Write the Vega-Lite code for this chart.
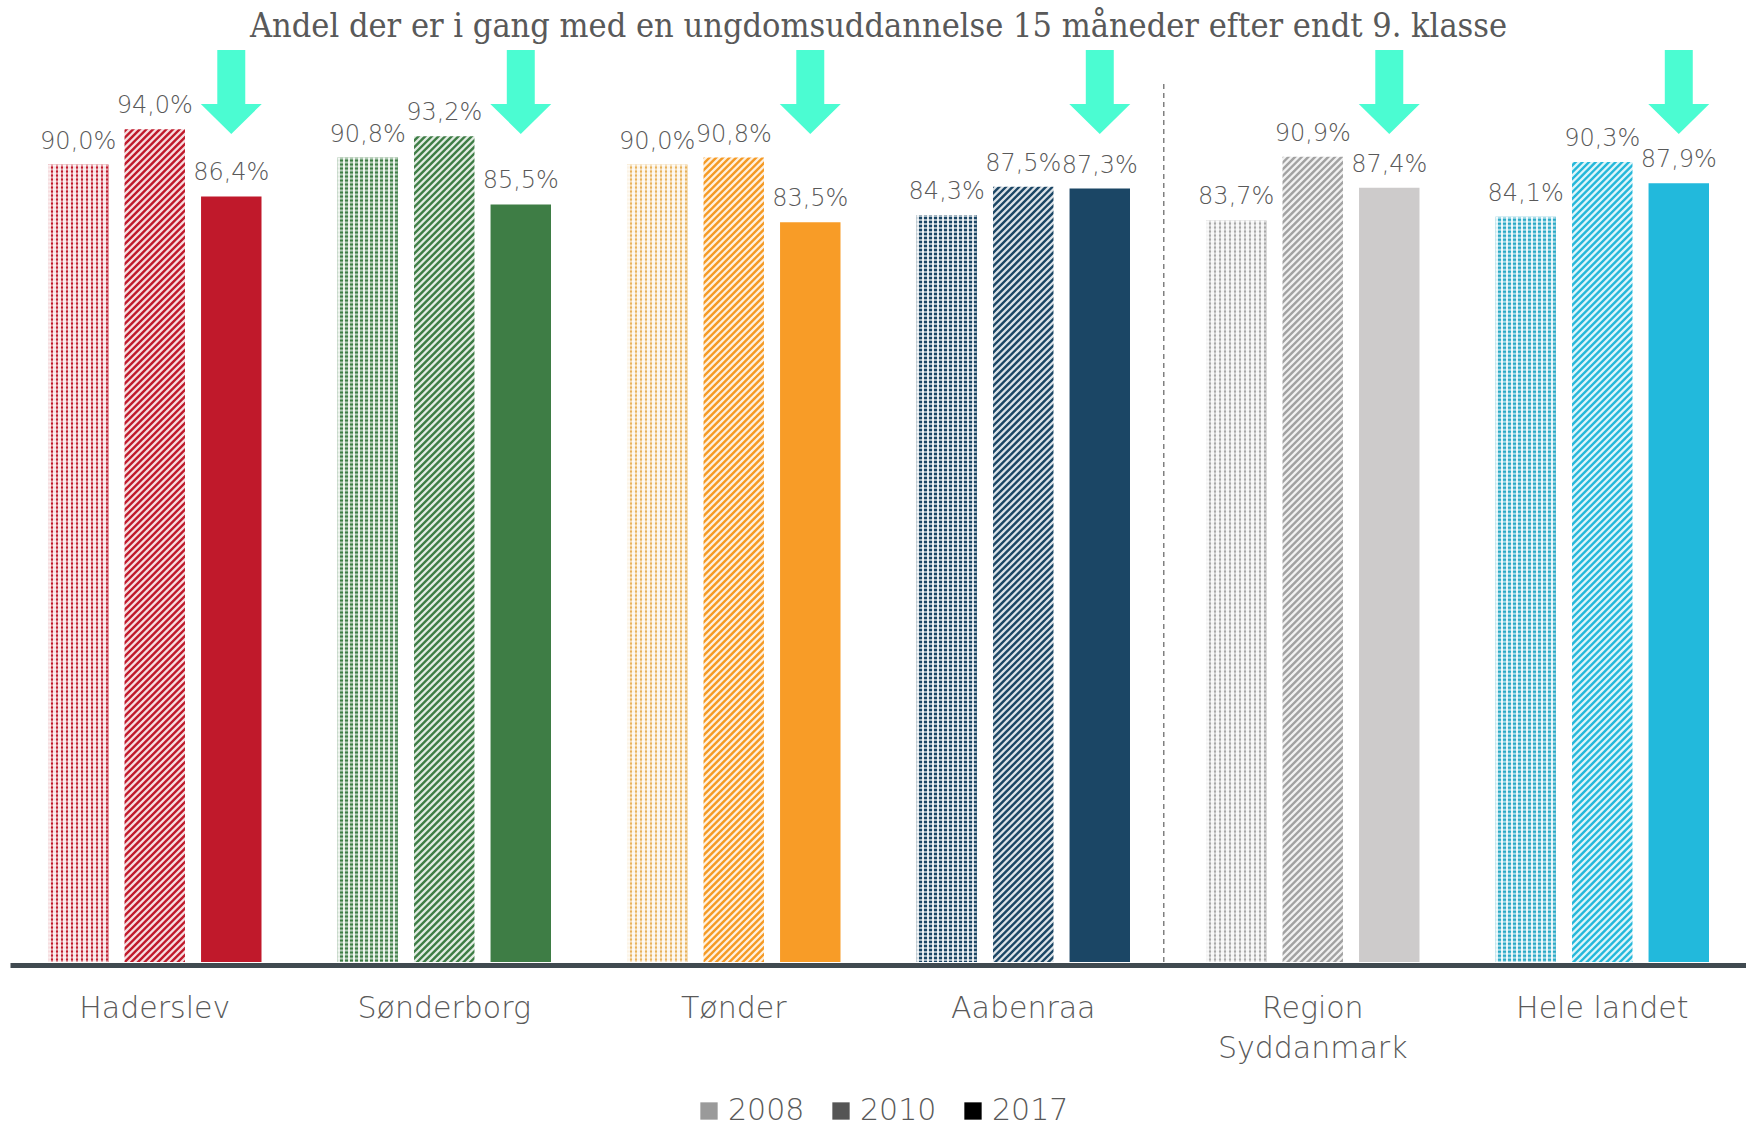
{
  "$schema": "https://vega.github.io/schema/vega-lite/v6.json",
  "autosize": {"type": "none"},
  "width": 1737,
  "height": 886,
  "padding": {"left": 10, "top": 76, "right": 0, "bottom": 164},
  "background": "white",
  "data": {"values": [
    {"kommune": "Haderslev", "year": "2008", "value": 0.900},
    {"kommune": "Haderslev", "year": "2010", "value": 0.940},
    {"kommune": "Haderslev", "year": "2017", "value": 0.864},
    {"kommune": "Sønderborg", "year": "2008", "value": 0.908},
    {"kommune": "Sønderborg", "year": "2010", "value": 0.932},
    {"kommune": "Sønderborg", "year": "2017", "value": 0.855},
    {"kommune": "Tønder", "year": "2008", "value": 0.900},
    {"kommune": "Tønder", "year": "2010", "value": 0.908},
    {"kommune": "Tønder", "year": "2017", "value": 0.835},
    {"kommune": "Aabenraa", "year": "2008", "value": 0.843},
    {"kommune": "Aabenraa", "year": "2010", "value": 0.875},
    {"kommune": "Aabenraa", "year": "2017", "value": 0.873},
    {"kommune": "Region Syddanmark", "year": "2008", "value": 0.837},
    {"kommune": "Region Syddanmark", "year": "2010", "value": 0.909},
    {"kommune": "Region Syddanmark", "year": "2017", "value": 0.874},
    {"kommune": "Hele landet", "year": "2008", "value": 0.841},
    {"kommune": "Hele landet", "year": "2010", "value": 0.903},
    {"kommune": "Hele landet", "year": "2017", "value": 0.879}
  ]},
  "resolve": {"scale": {"fill": "independent"}},
  "layer": [
    {
      "transform": [{"filter": "datum.year == '2010'"}],
      "mark": {"type": "bar"},
      "encoding": {
        "x": {"field": "kommune", "type": "nominal", "sort": null, "title": null,
          "scale": {"domain": ["Haderslev", "Sønderborg", "Tønder", "Aabenraa", "Region Syddanmark", "Hele landet"], "paddingInner": 0.2625, "paddingOuter": 0.13125},
          "axis": {"labelAngle": 0, "ticks": false, "grid": false, "domainColor": "#404a50", "domainWidth": 5, "offset": 3, "labelPadding": 28, "labelFont": "DejaVu Sans", "labelFontSize": 30, "labelFontWeight": 200, "labelColor": "#595959", "labelLineHeight": 40, "labelBaseline": "top", "labelLimit": 400, "zindex": 1,
            "labelExpr": "datum.label == 'Region Syddanmark' ? ['Region', 'Syddanmark'] : datum.label"}},
        "xOffset": {"field": "year", "type": "nominal", "scale": {"domain": ["2008", "2010", "2017"], "paddingInner": 0.21, "paddingOuter": 0}},
        "y": {"field": "value", "type": "quantitative", "scale": {"domain": [0, 1], "nice": false, "zero": true}, "axis": null},
        "fill": {"field": "kommune", "type": "nominal", "legend": null,
          "scale": {"domain": ["Haderslev", "Sønderborg", "Tønder", "Aabenraa", "Region Syddanmark", "Hele landet"], "range": ["#c0192b", "#3e7d45", "#f59a24", "#1b4665", "#a2a2a2", "#25b8da"]}}
      }
    },
    {
      "data": {"values": [{}]},
      "mark": {"type": "rule", "strokeWidth": 1900, "strokeDash": [2.3, 2.4], "color": "white", "opacity": 0.85},
      "encoding": {
        "x": {"datum": "Haderslev", "type": "nominal"},
        "x2": {"datum": "Hele landet"},
        "y": {"datum": 1.3, "type": "quantitative"},
        "y2": {"datum": -0.3332}
      }
    },
    {
      "transform": [{"filter": "datum.year == '2008'"}],
      "mark": {"type": "bar"},
      "encoding": {
        "x": {"field": "kommune", "type": "nominal", "sort": null, "title": null},
        "xOffset": {"field": "year", "type": "nominal"},
        "y": {"field": "value", "type": "quantitative"},
        "fill": {"field": "kommune", "type": "nominal", "legend": null,
          "scale": {"domain": ["Haderslev", "Sønderborg", "Tønder", "Aabenraa", "Region Syddanmark", "Hele landet"], "range": ["#c0192b", "#3e7d45", "#e8b25a", "#1b4665", "#a8a8a8", "#2aa9c6"]}}
      }
    },
    {
      "transform": [{"filter": "datum.year == '2008'"}],
      "mark": {"type": "bar", "fill": {"gradient": "linear", "x1": 0, "y1": 0, "x2": 1, "y2": 0, "stops": [
        {"offset": 0, "color": "rgba(255,255,255,0.85)"}, {"offset": 0.0417, "color": "rgba(255,255,255,0.85)"}, {"offset": 0.0417, "color": "rgba(255,255,255,0)"}, {"offset": 0.0833, "color": "rgba(255,255,255,0)"},
        {"offset": 0.0833, "color": "rgba(255,255,255,0.85)"}, {"offset": 0.125, "color": "rgba(255,255,255,0.85)"}, {"offset": 0.125, "color": "rgba(255,255,255,0)"}, {"offset": 0.1667, "color": "rgba(255,255,255,0)"},
        {"offset": 0.1667, "color": "rgba(255,255,255,0.85)"}, {"offset": 0.2083, "color": "rgba(255,255,255,0.85)"}, {"offset": 0.2083, "color": "rgba(255,255,255,0)"}, {"offset": 0.25, "color": "rgba(255,255,255,0)"},
        {"offset": 0.25, "color": "rgba(255,255,255,0.85)"}, {"offset": 0.2917, "color": "rgba(255,255,255,0.85)"}, {"offset": 0.2917, "color": "rgba(255,255,255,0)"}, {"offset": 0.3333, "color": "rgba(255,255,255,0)"},
        {"offset": 0.3333, "color": "rgba(255,255,255,0.85)"}, {"offset": 0.375, "color": "rgba(255,255,255,0.85)"}, {"offset": 0.375, "color": "rgba(255,255,255,0)"}, {"offset": 0.4167, "color": "rgba(255,255,255,0)"},
        {"offset": 0.4167, "color": "rgba(255,255,255,0.85)"}, {"offset": 0.4583, "color": "rgba(255,255,255,0.85)"}, {"offset": 0.4583, "color": "rgba(255,255,255,0)"}, {"offset": 0.5, "color": "rgba(255,255,255,0)"},
        {"offset": 0.5, "color": "rgba(255,255,255,0.85)"}, {"offset": 0.5417, "color": "rgba(255,255,255,0.85)"}, {"offset": 0.5417, "color": "rgba(255,255,255,0)"}, {"offset": 0.5833, "color": "rgba(255,255,255,0)"},
        {"offset": 0.5833, "color": "rgba(255,255,255,0.85)"}, {"offset": 0.625, "color": "rgba(255,255,255,0.85)"}, {"offset": 0.625, "color": "rgba(255,255,255,0)"}, {"offset": 0.6667, "color": "rgba(255,255,255,0)"},
        {"offset": 0.6667, "color": "rgba(255,255,255,0.85)"}, {"offset": 0.7083, "color": "rgba(255,255,255,0.85)"}, {"offset": 0.7083, "color": "rgba(255,255,255,0)"}, {"offset": 0.75, "color": "rgba(255,255,255,0)"},
        {"offset": 0.75, "color": "rgba(255,255,255,0.85)"}, {"offset": 0.7917, "color": "rgba(255,255,255,0.85)"}, {"offset": 0.7917, "color": "rgba(255,255,255,0)"}, {"offset": 0.8333, "color": "rgba(255,255,255,0)"},
        {"offset": 0.8333, "color": "rgba(255,255,255,0.85)"}, {"offset": 0.875, "color": "rgba(255,255,255,0.85)"}, {"offset": 0.875, "color": "rgba(255,255,255,0)"}, {"offset": 0.9167, "color": "rgba(255,255,255,0)"},
        {"offset": 0.9167, "color": "rgba(255,255,255,0.85)"}, {"offset": 0.9583, "color": "rgba(255,255,255,0.85)"}, {"offset": 0.9583, "color": "rgba(255,255,255,0)"}, {"offset": 1, "color": "rgba(255,255,255,0)"}
      ]}},
      "encoding": {
        "x": {"field": "kommune", "type": "nominal", "sort": null, "title": null},
        "xOffset": {"field": "year", "type": "nominal"},
        "y": {"field": "value", "type": "quantitative"}
      }
    },
    {
      "transform": [{"filter": "datum.year == '2008'"}],
      "mark": {"type": "rule", "strokeWidth": 60, "strokeDash": [2, 2], "color": "white", "opacity": 0.6},
      "encoding": {
        "x": {"field": "kommune", "type": "nominal", "sort": null, "title": null},
        "xOffset": {"field": "year", "type": "nominal"},
        "y": {"field": "value", "type": "quantitative"},
        "y2": {"datum": 0}
      }
    },
    {
      "transform": [{"filter": "datum.year == '2017'"}],
      "mark": {"type": "bar"},
      "encoding": {
        "x": {"field": "kommune", "type": "nominal", "sort": null, "title": null},
        "xOffset": {"field": "year", "type": "nominal"},
        "y": {"field": "value", "type": "quantitative"},
        "fill": {"field": "kommune", "type": "nominal", "legend": null,
          "scale": {"domain": ["Haderslev", "Sønderborg", "Tønder", "Aabenraa", "Region Syddanmark", "Hele landet"], "range": ["#c0192b", "#3e7d45", "#f89c27", "#1b4665", "#cdcbcb", "#22b9dc"]}}
      }
    },
    {
      "data": {"values": [{}]},
      "mark": {"type": "rule", "color": "#808080", "strokeWidth": 1.5, "strokeDash": [5, 4], "xOffset": -149},
      "encoding": {
        "x": {"datum": "Region Syddanmark", "type": "nominal"},
        "y": {"datum": 0, "type": "quantitative"},
        "y2": {"datum": 0.995}
      }
    },
    {
      "data": {"values": [{}]},
      "mark": {"type": "text", "text": "Andel der er i gang med en ungdomsuddannelse 15 måneder efter endt 9. klasse",
        "font": "DejaVu Serif Condensed, Liberation Serif, serif", "fontSize": 34, "color": "#595959",
        "baseline": "alphabetic", "align": "center", "xOffset": -144.75},
      "encoding": {
        "x": {"datum": "Aabenraa", "type": "nominal"},
        "y": {"datum": 1.044, "type": "quantitative"}
      }
    },
    {
      "mark": {"type": "text", "dy": -16, "baseline": "alphabetic", "font": "DejaVu Sans", "fontSize": 24, "fontWeight": 200, "color": "#595959"},
      "encoding": {
        "x": {"field": "kommune", "type": "nominal", "sort": null, "title": null},
        "xOffset": {"field": "year", "type": "nominal"},
        "y": {"field": "value", "type": "quantitative"},
        "text": {"field": "value", "type": "quantitative", "format": ".1%"}
      }
    },
    {
      "transform": [{"filter": "datum.year == '2017'"}],
      "mark": {"type": "point", "shape": "M -0.333 -1 L 0.333 -1 L 0.333 0.286 L 0.726 0.286 L 0 1 L -0.726 0.286 L -0.333 0.286 Z", "size": 7056, "filled": true, "color": "#4bfcd2", "opacity": 1, "strokeWidth": 0},
      "encoding": {
        "x": {"field": "kommune", "type": "nominal", "sort": null, "title": null},
        "xOffset": {"field": "year", "type": "nominal"},
        "y": {"datum": 0.982, "type": "quantitative"}
      }
    },
    {
      "mark": {"type": "point", "filled": true, "opacity": 0},
      "encoding": {
        "x": {"field": "kommune", "type": "nominal", "sort": null, "title": null},
        "xOffset": {"field": "year", "type": "nominal"},
        "y": {"field": "value", "type": "quantitative"},
        "color": {"field": "year", "type": "nominal",
          "scale": {"domain": ["2008", "2010", "2017"], "range": ["#9a9a9a", "#555555", "#000000"]},
          "legend": {"orient": "none", "legendX": 684, "legendY": 1020, "direction": "horizontal", "title": null, "zindex": 1,
            "symbolType": "square", "symbolSize": 300, "symbolOpacity": 1, "symbolStrokeWidth": 0,
            "labelFont": "DejaVu Sans", "labelFontSize": 30, "labelFontWeight": 200, "labelColor": "#595959",
            "labelOffset": 4, "columnPadding": 21}}
      }
    }
  ],
  "config": {
    "view": {"stroke": null},
    "locale": {"number": {"decimal": ",", "thousands": ".", "grouping": [3], "currency": ["", " kr."]}}
  }
}
